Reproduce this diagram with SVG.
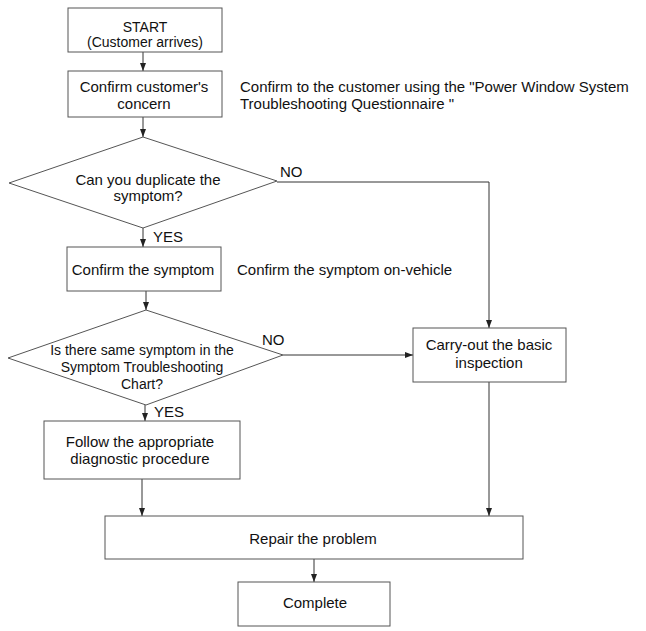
<svg xmlns="http://www.w3.org/2000/svg" width="646" height="631" viewBox="0 0 646 631">
<style>
.box{fill:#fff;stroke:#555;stroke-width:1}
.t{font-family:"Liberation Sans",Arial,sans-serif;fill:#111;text-anchor:middle}
.s15{font-size:15px}
.s14{font-size:14px}
.note{font-family:"Liberation Sans",Arial,sans-serif;fill:#111;font-size:15px}
.c{fill:none;stroke:#333;stroke-width:1}
</style>
<defs>
<marker id="ah" viewBox="0 0 8 6" refX="8" refY="3" markerWidth="8" markerHeight="6" markerUnits="userSpaceOnUse" orient="auto">
<path d="M0,0 L8,3 L0,6 Z" fill="#222"/>
</marker>
</defs>
<rect width="646" height="631" fill="#fff"/>
<g id="connectors">
<line class="c" x1="143" y1="52" x2="143" y2="71" marker-end="url(#ah)"/>
<line class="c" x1="143" y1="117" x2="143" y2="137" marker-end="url(#ah)"/>
<line class="c" x1="143" y1="228" x2="143" y2="247" marker-end="url(#ah)"/>
<line class="c" x1="146" y1="291" x2="146" y2="310" marker-end="url(#ah)"/>
<line class="c" x1="145" y1="405" x2="145" y2="421" marker-end="url(#ah)"/>
<line class="c" x1="142" y1="479" x2="142" y2="516" marker-end="url(#ah)"/>
<polyline class="c" points="277,182 489,182 489,328" marker-end="url(#ah)"/>
<line class="c" x1="283" y1="355" x2="413" y2="355" marker-end="url(#ah)"/>
<line class="c" x1="489" y1="382" x2="489" y2="516" marker-end="url(#ah)"/>
<line class="c" x1="314" y1="559" x2="314" y2="582" marker-end="url(#ah)"/>
<text class="note" x="280" y="177">NO</text>
<text class="note" x="153" y="242">YES</text>
<text class="note" x="262" y="345">NO</text>
<text class="note" x="154" y="417">YES</text>
</g>
<g id="start">
<rect class="box" x="68" y="8" width="154" height="44"/>
<text class="t s14" x="145" y="32">START</text>
<text class="t s14" x="145" y="47">(Customer arrives)</text>
</g>
<g id="confirm-concern">
<rect class="box" x="68" y="71" width="154" height="46"/>
<text class="t s15" x="144" y="92">Confirm customer's</text>
<text class="t s15" x="144" y="109">concern</text>
</g>
<g id="note-questionnaire">
<text class="note" x="240" y="92">Confirm to the customer using the "Power Window System</text>
<text class="note" x="240" y="109">Troubleshooting Questionnaire "</text>
</g>
<g id="duplicate">
<polygon class="box" points="143,137 277,181 143,228 9,183"/>
<text class="t s15" x="148" y="185">Can you duplicate the</text>
<text class="t s15" x="148" y="201">symptom?</text>
</g>
<g id="confirm-symptom">
<rect class="box" x="67" y="247" width="154" height="44"/>
<text class="t s15" x="143" y="275">Confirm the symptom</text>
</g>
<g id="note-vehicle">
<text class="note" x="237" y="275">Confirm the symptom on-vehicle</text>
</g>
<g id="same-symptom">
<polygon class="box" points="146,310 283,355 146,405 8,358"/>
<text class="t s14" x="142" y="355">Is there same symptom in the</text>
<text class="t s14" x="142" y="372">Symptom Troubleshooting</text>
<text class="t s14" x="142" y="389">Chart?</text>
</g>
<g id="follow">
<rect class="box" x="44" y="421" width="196" height="58"/>
<text class="t s15" x="140" y="447">Follow the appropriate</text>
<text class="t s15" x="140" y="464">diagnostic procedure</text>
</g>
<g id="basic-inspection">
<rect class="box" x="413" y="328" width="153" height="54"/>
<text class="t s15" x="489" y="350">Carry-out the basic</text>
<text class="t s15" x="489" y="368">inspection</text>
</g>
<g id="repair">
<rect class="box" x="105" y="516" width="418" height="43"/>
<text class="t s15" x="313" y="544">Repair the problem</text>
</g>
<g id="complete">
<rect class="box" x="238" y="582" width="152" height="44"/>
<text class="t s15" x="315" y="608">Complete</text>
</g>
</svg>
